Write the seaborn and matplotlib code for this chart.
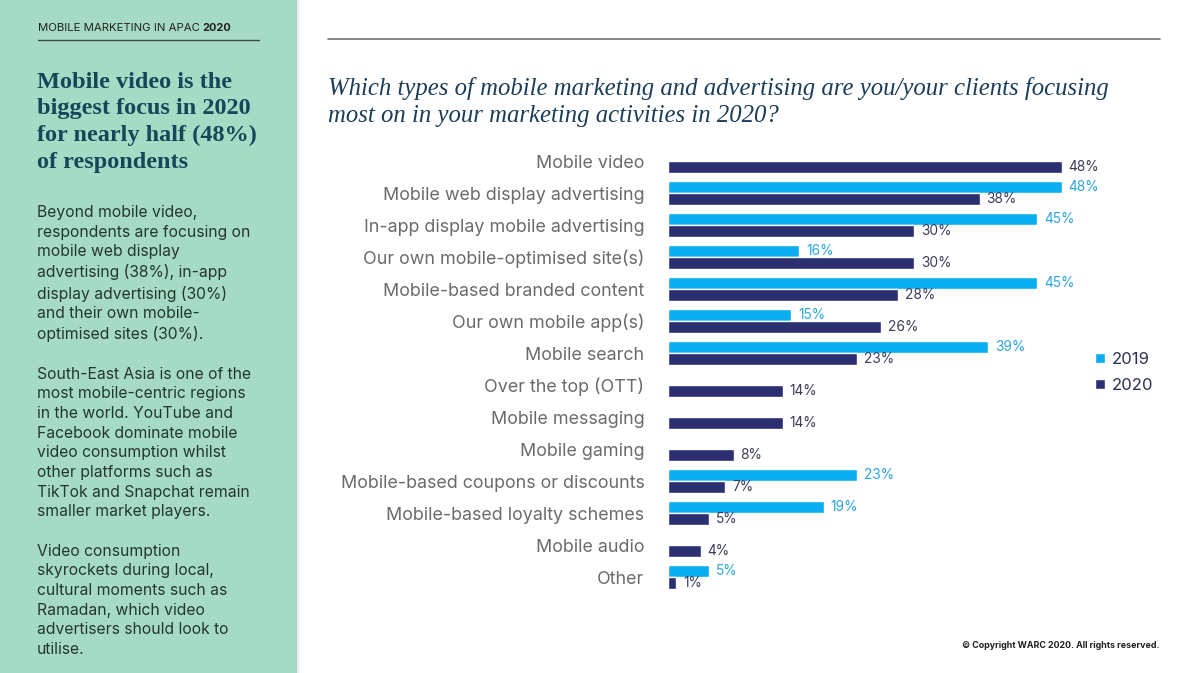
import numpy as np
import pandas as pd
import matplotlib
matplotlib.use("Agg")
import matplotlib.pyplot as plt
from matplotlib.patches import Rectangle, Patch
from matplotlib.lines import Line2D
import seaborn as sns

# ---- data ----
categories = [
    "Mobile video",
    "Mobile web display advertising",
    "In-app display mobile advertising",
    "Our own mobile-optimised site(s)",
    "Mobile-based branded content",
    "Our own mobile app(s)",
    "Mobile search",
    "Over the top (OTT)",
    "Mobile messaging",
    "Mobile gaming",
    "Mobile-based coupons or discounts",
    "Mobile-based loyalty schemes",
    "Mobile audio",
    "Other",
]
values_2019 = [np.nan, 48, 45, 16, 45, 15, 39, np.nan, np.nan, np.nan, 23, 19, np.nan, 5]
values_2020 = [48, 38, 30, 30, 28, 26, 23, 14, 14, 8, 7, 5, 4, 1]
years = ["2019", "2020"]

C2019 = "#0AADEF"
C2020 = "#2B2F72"
MINT = "#A5DBC4"

df = pd.DataFrame({
    "category": categories * 2,
    "year": [years[0]] * len(categories) + [years[1]] * len(categories),
    "value": values_2019 + values_2020,
}).dropna()

sns.set_theme(style="white")
plt.rcParams["font.family"] = ["Inter", "DejaVu Sans"]

W, H = 1200, 673
fig = plt.figure(figsize=(W / 100, H / 100), dpi=100)
fig.patch.set_facecolor("white")

def fx(px):
    return px / W

def fy(py):
    return 1 - py / H

# left mint panel
fig.patches.append(Rectangle((0, 0), fx(297), 1, transform=fig.transFigure,
                             facecolor=MINT, edgecolor="none", zorder=0))
fig.add_artist(Line2D([fx(298), fx(298)], [0, 1], transform=fig.transFigure,
                      color="#e6ece9", lw=1.5))

# header + rules
fig.text(fx(38), fy(28), "MOBILE MARKETING IN APAC", fontsize=8.2, color="#222222",
         va="center", ha="left")
fig.text(fx(202), fy(28), "2020", fontsize=7.9, color="#222222", weight="bold",
         va="center", ha="left")
fig.add_artist(Line2D([fx(38), fx(259)], [fy(40), fy(40)], transform=fig.transFigure,
                      color="#3d4a44", lw=1))
fig.add_artist(Line2D([fx(328), fx(1160)], [fy(39), fy(39)], transform=fig.transFigure,
                      color="#6f6f6f", lw=1.2))

# left heading
fig.text(fx(37), fy(72), "Mobile video is the\nbiggest focus in 2020\nfor nearly half (48%)\nof respondents",
         fontsize=17.5, family=["Liberation Serif", "DejaVu Serif"], weight="bold",
         color="#17465A", va="top", ha="left", linespacing=1.34)

# left body copy
body = ("Beyond mobile video,\nrespondents are focusing on\nmobile web display\n"
        "advertising (38%), in-app\ndisplay advertising (30%)\nand their own mobile-\n"
        "optimised sites (30%).\n\n"
        "South-East Asia is one of the\nmost mobile-centric regions\nin the world. YouTube and\n"
        "Facebook dominate mobile\nvideo consumption whilst\nother platforms such as\n"
        "TikTok and Snapchat remain\nsmaller market players.\n\n"
        "Video consumption\nskyrockets during local,\ncultural moments such as\n"
        "Ramadan, which video\nadvertisers should look to\nutilise.")
fig.text(fx(37), fy(205), body, fontsize=11.3, color="#253630", va="top", ha="left",
         linespacing=1.39)

# chart title
fig.text(fx(328), fy(77), "Which types of mobile marketing and advertising are you/your clients focusing\n"
         "most on in your marketing activities in 2020?",
         fontsize=17.8, family=["Liberation Serif", "DejaVu Serif"], style="italic",
         color="#1B3D57", va="top", ha="left", linespacing=1.31)

# bars
ax = fig.add_axes([fx(668), fy(593), fx(1160) - fx(668), (593 - 145) / H])
sns.barplot(data=df, y="category", x="value", hue="year", order=categories,
            hue_order=years, palette=[C2019, C2020], width=0.74, ax=ax,
            saturation=1, legend=False)
ax.set_xlim(0, 60)
ax.set_ylim(len(categories) - 0.5, -0.5)
ax.set_xlabel("")
ax.set_ylabel("")
ax.set_xticks([])
for s in ax.spines.values():
    s.set_visible(False)
ax.tick_params(axis="y", length=0, pad=17, labelsize=12.9, labelcolor="#6b6b6b")

ax.bar_label(ax.containers[0], fmt="%d%%", padding=5, fontsize=9.9, color="#2BA6DE")
ax.bar_label(ax.containers[1], fmt="%d%%", padding=5, fontsize=9.9, color="#3a3d5c")

handles = [Patch(facecolor=C2019), Patch(facecolor=C2020)]
fig.legend(handles, years, loc="upper left", bbox_to_anchor=(fx(1080), fy(337)),
           frameon=False, fontsize=12, handlelength=0.6, handleheight=0.6,
           handletextpad=0.4, labelspacing=0.65, labelcolor="#2B2F52")

fig.text(fx(1160), fy(646), "© Copyright WARC 2020. All rights reserved.", fontsize=6.4,
         weight="bold", color="#222222", ha="right", va="center")

fig.savefig("out.png", dpi=100)
